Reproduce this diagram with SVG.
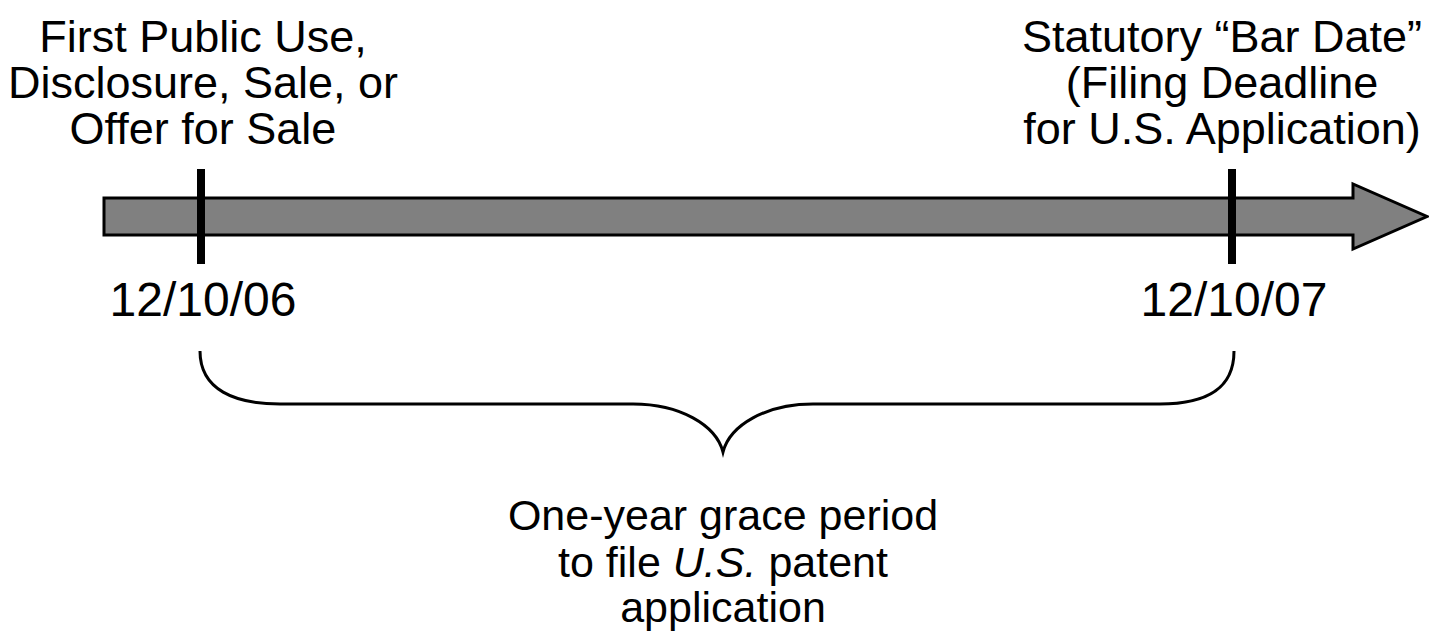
<svg xmlns="http://www.w3.org/2000/svg" width="1429" height="639" viewBox="0 0 1429 639">
<style>
text{font-family:"Liberation Sans",Arial,sans-serif;fill:#000;text-anchor:middle}
.title{font-size:45px}
.date{font-size:48px}
.note{font-size:43px}
.tick{fill:#000}
.brace{fill:none;stroke:#000;stroke-width:3}
</style>
<rect width="1429" height="639" fill="#fff"/>
<g id="timeline">
<polygon points="104,198 1353,198 1353,184 1427,216.5 1353,249 1353,235 104,235" fill="#808080" stroke="#000" stroke-width="3" stroke-linejoin="miter"/>
</g>
<g id="start">
<rect class="tick" x="197" y="169" width="8" height="95"/>
<text class="title" x="203" y="52">First Public Use,</text>
<text class="title" x="203" y="98">Disclosure, Sale, or</text>
<text class="title" x="203" y="144">Offer for Sale</text>
<text class="date" x="203" y="316">12/10/06</text>
</g>
<g id="bar-date">
<rect class="tick" x="1228" y="169" width="8" height="95"/>
<text class="title" x="1222" y="52">Statutory “Bar Date”</text>
<text class="title" x="1222" y="98">(Filing Deadline</text>
<text class="title" x="1222" y="144">for U.S. Application)</text>
<text class="date" x="1234" y="316">12/10/07</text>
</g>
<g id="connectors">
<path class="brace" d="M200,351 C200,390 235,404 280,404 L633,404 C680,404 716,425 723,452 C730,425 766,404 813,404 L1160,404 C1205,404 1234,390 1234,351"/>
</g>
<g id="grace">
<text class="note" x="723" y="530">One-year grace period</text>
<text class="note" x="723" y="577">to file <tspan font-style="italic">U.S.</tspan> patent</text>
<text class="note" x="723" y="622">application</text>
</g>
</svg>
